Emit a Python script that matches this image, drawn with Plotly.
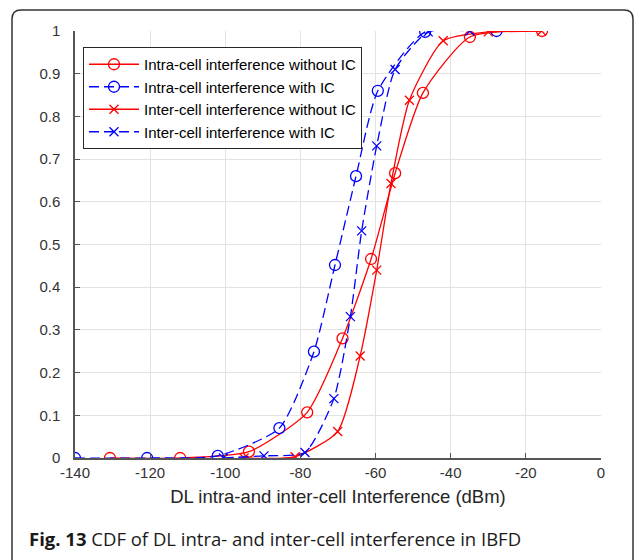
import plotly.graph_objects as go

# Data
intra_noic_x = [-130.7, -112, -93.7, -78.2, -68.8, -61.2, -54.8, -47.4, -34.9, -15.7]
intra_noic_y = [0, 0, 0.015, 0.107, 0.28, 0.466, 0.667, 0.855, 0.986, 1.0]

intra_ic_x = [-140, -120.8, -102, -85.6, -76.4, -70.8, -65.2, -59.4, -46.8, -27.8]
intra_ic_y = [0, 0, 0.005, 0.07, 0.249, 0.452, 0.66, 0.86, 0.998, 1.0]

inter_noic_x = [-95, -81.4, -70.1, -64.1, -59.7, -55.9, -51, -42, -30, -15.8]
inter_noic_y = [0, 0.003, 0.062, 0.239, 0.44, 0.643, 0.838, 0.977, 0.998, 1.0]

inter_ic_x = [-100.5, -89.7, -78.8, -71.1, -66.7, -63.7, -59.7, -54.8, -46, -34.9]
inter_ic_y = [0, 0.005, 0.013, 0.139, 0.331, 0.532, 0.731, 0.91, 0.998, 1.0]

x_ticks = [-140, -120, -100, -80, -60, -40, -20, 0]
y_ticks = [0, 0.1, 0.2, 0.3, 0.4, 0.5, 0.6, 0.7, 0.8, 0.9, 1]
y_tick_labels = ["0", "0.1", "0.2", "0.3", "0.4", "0.5", "0.6", "0.7", "0.8", "0.9", "1"]

series = [
    ("Intra-cell interference without IC", intra_noic_x, intra_noic_y, "#ff0000", "solid", "circle-open"),
    ("Intra-cell interference with IC", intra_ic_x, intra_ic_y, "#0000ff", "10px,5px", "circle-open"),
    ("Inter-cell interference without IC", inter_noic_x, inter_noic_y, "#ff0000", "solid", "x-thin-open"),
    ("Inter-cell interference with IC", inter_ic_x, inter_ic_y, "#0000ff", "10px,5px", "x-thin-open"),
]

fig = go.Figure()
for name, xs, ys, col, dash, sym in series:
    fig.add_trace(go.Scatter(
        x=xs, y=ys, name=name, mode="lines+markers",
        line=dict(color=col, width=1.3, dash=dash, shape="spline", smoothing=0.6),
        marker=dict(symbol=sym, size=11 if sym == "circle-open" else 9,
                    color=col, line=dict(color=col, width=1.3)),
    ))

L, R, T, B = 75, 35, 31, 102
W, H = 636, 560
pw, ph = W - L - R, H - T - B

def u(px):
    return (px - L) / pw

def v(py):
    return (H - B - py) / ph

ul, ur, vt, vb = u(12), u(633), v(10), v(570)
du, dv = 9 / pw, 9 / ph
frame = (f"M {ul},{vb} L {ul},{vt - dv} Q {ul},{vt} {ul + du},{vt} "
         f"L {ur - du},{vt} Q {ur},{vt} {ur},{vt - dv} L {ur},{vb}")

fig.update_layout(
    width=W, height=H,
    margin=dict(l=L, r=R, t=T, b=B, autoexpand=False),
    paper_bgcolor="white", plot_bgcolor="white",
    font=dict(family="Liberation Sans, Arial, sans-serif", color="#262626"),
    showlegend=True,
    legend=dict(
        x=u(83), y=v(47), xanchor="left", yanchor="top",
        bgcolor="white", bordercolor="#262626", borderwidth=1,
        font=dict(size=15, color="#000000"),
        tracegroupgap=0, itemwidth=50,
    ),
    xaxis=dict(
        range=[-140, 0], tickvals=x_ticks, ticktext=[str(t) for t in x_ticks],
        showgrid=True, gridcolor="#e3e3e3", gridwidth=1,
        zeroline=False, showline=True, linecolor="#555555", linewidth=1.5,
        ticks="inside", ticklen=5, tickcolor="#555555",
        tickfont=dict(size=15, color="#333333"),
        title=dict(text="DL intra-and inter-cell Interference (dBm)",
                   font=dict(size=18.5, color="#262626"), standoff=10),
        mirror=False, automargin=False,
    ),
    yaxis=dict(
        range=[0, 1], tickvals=y_ticks, ticktext=y_tick_labels,
        showgrid=True, gridcolor="#e3e3e3", gridwidth=1,
        zeroline=False, showline=True, linecolor="#555555", linewidth=1.5,
        ticks="inside", ticklen=5, tickcolor="#555555",
        tickfont=dict(size=15, color="#333333"),
        ticklabelstandoff=10,
        mirror=False, automargin=False,
    ),
    shapes=[
        dict(type="path", path=frame, xref="paper", yref="paper",
             line=dict(color="#333333", width=1.5)),
    ],
    annotations=[
        dict(x=u(27), y=v(538), xref="paper", yref="paper", xanchor="left", yanchor="middle",
             showarrow=False,
             text="<b>Fig. 13</b> CDF of DL intra- and inter-cell interference in IBFD",
             font=dict(family="Open Sans, sans-serif", size=18.5, color="#1a1a1a")),
    ],
)

fig.write_html("out.html", config={"displayModeBar": False},
               post_script="document.body.style.margin='0';")
